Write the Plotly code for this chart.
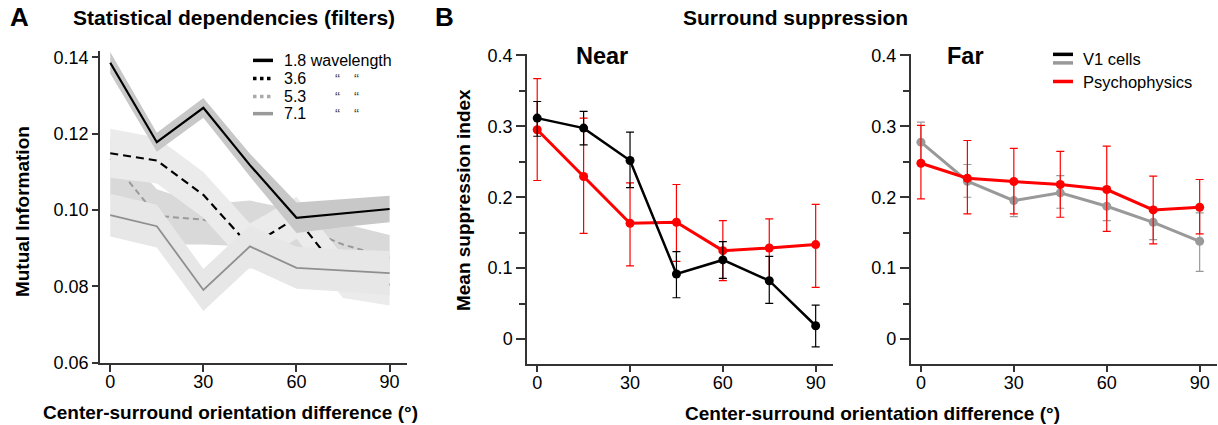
import numpy as np
import plotly.graph_objects as go

# ---------------- data ----------------
orient = [0, 15, 30, 45, 60, 75, 90]

# Panel A: mutual information (mean) and half-width of shaded band
mi_18 = [0.1386, 0.1178, 0.1268, 0.1118, 0.0980, 0.0992, 0.1003]
bw_18 = [0.0028, 0.0025, 0.0026, 0.0030, 0.0040, 0.0036, 0.0035]
mi_36 = [0.1149, 0.1130, 0.1040, 0.0905, 0.0980, 0.0825, 0.0805]
bw_36 = [0.0064, 0.0060, 0.0060, 0.0060, 0.0055, 0.0055, 0.0055]
mi_53 = [0.1135, 0.0985, 0.0975, 0.0950, 0.0960, 0.0910, 0.0875]
up_53 = [0.1190, 0.1055, 0.1015, 0.1025, 0.1000, 0.0965, 0.0935]
lo_53 = [0.1035, 0.0910, 0.0910, 0.0905, 0.0890, 0.0875, 0.0830]
mi_71 = [0.0987, 0.0958, 0.0791, 0.0905, 0.0849, 0.0842, 0.0835]
bw_71 = [0.0056, 0.0056, 0.0055, 0.0055, 0.0055, 0.0055, 0.0058]

# Panel B: Near
near_v1 = [0.3116, 0.2975, 0.2518, 0.0918, 0.1116, 0.0823, 0.0188]
near_v1_hi = [0.335, 0.321, 0.2918, 0.1233, 0.1374, 0.1167, 0.048]
near_v1_lo = [0.286, 0.274, 0.2137, 0.0583, 0.0856, 0.0503, -0.0109]
near_ps = [0.2952, 0.2292, 0.1633, 0.1647, 0.1247, 0.1285, 0.1332]
near_ps_hi = [0.3672, 0.3116, 0.2203, 0.218, 0.167, 0.1695, 0.190]
near_ps_lo = [0.2236, 0.1492, 0.1031, 0.1096, 0.0823, 0.0838, 0.0729]

# Panel B: Far
far_v1 = [0.2777, 0.2226, 0.1953, 0.2062, 0.1873, 0.1647, 0.1379]
far_v1_hi = [0.306, 0.2462, 0.2212, 0.2306, 0.2095, 0.186, 0.178]
far_v1_lo = [0.2509, 0.200, 0.1727, 0.1845, 0.167, 0.1402, 0.0955]
far_ps = [0.248, 0.2268, 0.2222, 0.218, 0.2109, 0.1822, 0.1859]
far_ps_hi = [0.3013, 0.280, 0.2688, 0.2646, 0.272, 0.2297, 0.225]
far_ps_lo = [0.1977, 0.1766, 0.1766, 0.1718, 0.152, 0.1342, 0.1483]

x_ticks = [0, 30, 60, 90]
yA_ticks = [0.06, 0.08, 0.10, 0.12, 0.14]
yB_ticks = [0, 0.1, 0.2, 0.3, 0.4]
yB_text = ["0", "0.1", "0.2", "0.3", "0.4"]

# ---------------- figure ----------------
W, H = 1218, 425
FONT = "Liberation Sans, Arial, sans-serif"
fig = go.Figure()


def px(x):
    return x / W


def py(y):
    # compensates the vertical scaling seen in the captured page
    yy = (y - 9.86) / 0.9507
    return 1 - yy / H


def band(x, upper, lower, color, ax):
    xs = list(x) + list(x)[::-1]
    ys = list(upper) + list(lower)[::-1]
    fig.add_trace(go.Scatter(x=xs, y=ys, fill="toself", fillcolor=color,
                             line=dict(width=0), mode="lines", hoverinfo="skip",
                             showlegend=False, xaxis="x" + ax, yaxis="y" + ax))


def line(x, y, color, width, dash, ax):
    fig.add_trace(go.Scatter(x=x, y=y, mode="lines",
                             line=dict(color=color, width=width, dash=dash),
                             showlegend=False, xaxis="x" + ax, yaxis="y" + ax))


a18 = np.array(mi_18); b18 = np.array(bw_18)
a36 = np.array(mi_36); b36 = np.array(bw_36)
a71 = np.array(mi_71); b71 = np.array(bw_71)

# draw order reproduces overlap of original
band(orient, up_53, lo_53, "#d9d9d9", "")
line(orient, mi_53, "#9a9a9a", 2, "6px,4px", "")
band(orient, a36 + b36, a36 - b36, "#ebebeb", "")
line(orient, mi_36, "black", 2.2, "8px,5px", "")
band(orient, a71 + b71, a71 - b71, "#e7e7e7", "")
band(orient, a18 + b18, a18 - b18, "#c8c8c8", "")
line(orient, mi_18, "black", 2.2, "solid", "")
line(orient, mi_71, "#8f8f8f", 1.8, "solid", "")


def errtrace(x, y, hi, lo, color, lw, ax, ms):
    y = np.array(y); hi = np.array(hi); lo = np.array(lo)
    fig.add_trace(go.Scatter(
        x=x, y=y, mode="lines+markers",
        line=dict(color=color, width=lw),
        marker=dict(color=color, size=ms),
        error_y=dict(type="data", symmetric=False, array=hi - y, arrayminus=y - lo,
                     color=color, thickness=1.2, width=4),
        showlegend=False, xaxis="x" + ax, yaxis="y" + ax))


errtrace(orient, near_ps, near_ps_hi, near_ps_lo, "#ff0000", 3, "2", 9)
errtrace(orient, near_v1, near_v1_hi, near_v1_lo, "black", 2.5, "2", 9)
errtrace(orient, far_v1, far_v1_hi, far_v1_lo, "#999999", 3, "3", 9)
errtrace(orient, far_ps, far_ps_hi, far_ps_lo, "#ff0000", 3, "3", 9)

axcol = "#333333"
tickfont = dict(family=FONT, size=18, color="black")
xcommon = dict(range=[-3.3, 95.6], tickvals=x_ticks, ticks="outside", ticklen=7,
               tickwidth=1.5, tickcolor=axcol, showline=True, linecolor=axcol,
               linewidth=1.5, showgrid=False, zeroline=False, tickfont=tickfont,
               ticklabelstandoff=-5)
yBcommon = dict(range=[-0.0345, 0.4015], tickvals=yB_ticks, ticktext=yB_text,
                ticks="outside", ticklen=9, tickwidth=1.5, tickcolor=axcol,
                minor=dict(dtick=0.05, tick0=0, ticks="outside", ticklen=6,
                           tickwidth=1.5, tickcolor=axcol),
                showline=True, linecolor=axcol, linewidth=1.5, showgrid=False,
                zeroline=False, tickfont=tickfont)

fig.update_layout(
    width=W, height=H, margin=dict(l=0, r=0, t=0, b=0),
    paper_bgcolor="white", plot_bgcolor="white",
    font=dict(family=FONT, color="black"),
    xaxis=dict(domain=[px(100), px(407)], anchor="y", **xcommon),
    yaxis=dict(domain=[py(362), py(52)], anchor="x", range=[0.06, 0.1416],
               tickvals=yA_ticks, tickformat=".2f", ticks="outside", ticklen=6,
               tickwidth=1.5, tickcolor=axcol, showline=True, linecolor=axcol,
               linewidth=1.5, showgrid=False, zeroline=False, tickfont=tickfont),
    xaxis2=dict(domain=[px(527), px(833)], anchor="y2", **xcommon),
    yaxis2=dict(domain=[py(362.7), py(55)], anchor="x2", **yBcommon),
    xaxis3=dict(domain=[px(910.7), px(1217)], anchor="y3", **xcommon),
    yaxis3=dict(domain=[py(362.7), py(55)], anchor="x3", **yBcommon),
)

ann = []


def text(t, x, y, size, bold=False, xanchor="center", angle=0, color="black"):
    ann.append(dict(text=("<b>%s</b>" % t) if bold else t, x=px(x), y=py(y),
                    xref="paper", yref="paper", xanchor=xanchor, yanchor="middle",
                    showarrow=False, textangle=angle,
                    font=dict(family=FONT, size=size, color=color)))


text("A", 19, 18, 26, True)
text("Statistical dependencies (filters)", 234, 18, 21, True)
text("B", 444, 18, 26, True)
text("Surround suppression", 795, 18, 21, True)
text("Near", 602, 57, 23.5, True)
text("Far", 965, 57, 23.5, True)
text("Mutual Information", 22, 212, 19, True, angle=-90)
text("Mean suppression index", 463, 200, 19, True, angle=-90)
text("Center-surround orientation difference (°)", 230, 411, 19, True)
text("Center-surround orientation difference (°)", 872, 412, 19, True)

# legend A
legA = [("1.8 wavelength", "black", "solid", 3.5),
        ("3.6", "black", "dot", 3.5),
        ("5.3", "#aaaaaa", "dot", 3.5),
        ("7.1", "#999999", "solid", 3.5)]
rowsA = [61, 79, 97, 114]
shapes = []
for (lab, col, dash, w), yy in zip(legA, rowsA):
    shapes.append(dict(type="line", xref="paper", yref="paper", x0=px(253), x1=px(273),
                       y0=py(yy), y1=py(yy), line=dict(color=col, width=w, dash=dash)))
    text(lab, 282, yy, 16, xanchor="left")
for yy in rowsA[1:]:
    text("\u201c", 337, yy, 15, color="#444444")
    text("\u201c", 357, yy, 15, color="#444444")

# legend B
shapes.append(dict(type="line", xref="paper", yref="paper", x0=px(1053), x1=px(1073),
                   y0=py(55), y1=py(55), line=dict(color="black", width=3.5)))
shapes.append(dict(type="line", xref="paper", yref="paper", x0=px(1053), x1=px(1073),
                   y0=py(63.5), y1=py(63.5), line=dict(color="#999999", width=3.5)))
shapes.append(dict(type="line", xref="paper", yref="paper", x0=px(1053), x1=px(1073),
                   y0=py(82), y1=py(82), line=dict(color="#ff0000", width=3.5)))
text("V1 cells", 1081, 60, 16.5, xanchor="left")
text("Psychophysics", 1081, 83, 16.5, xanchor="left")

fig.update_layout(annotations=ann, shapes=shapes)
post = (
    "document.documentElement.style.margin='0';"
    "document.documentElement.style.height='425px';"
    "document.documentElement.style.overflow='hidden';"
    "document.body.style.margin='0';"
    "document.body.style.height='425px';"
    "document.body.style.overflow='hidden';"
    "var g=document.getElementById('{plot_id}');"
    "g.style.position='absolute';g.style.top='0px';g.style.left='0px';"
)
fig.write_html("out.html", config={"displayModeBar": False}, post_script=post)
